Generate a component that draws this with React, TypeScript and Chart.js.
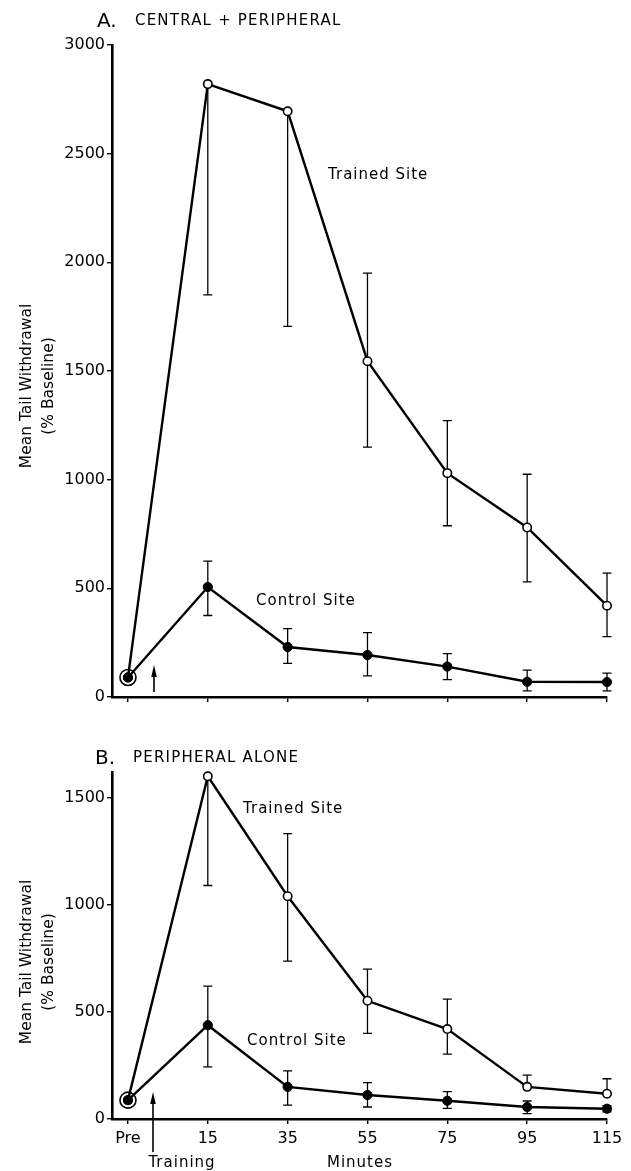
import React, { useEffect, useRef } from 'react';
import { Chart, registerables } from 'chart.js';

Chart.register(...registerables);

// ---------- data ----------
const xLabels = ['Pre', '15', '35', '55', '75', '95', '115'];
const xPositions = [0, 1, 2, 3, 4, 5, 6];

// Panel A: central + peripheral
const trainedA = [90, 2820, 2695, 1545, 1030, 780, 420];
const trainedAUpper = [null, null, null, 1950, 1272, 1025, 570];
const trainedALower = [null, 1850, 1705, 1150, 788, 530, 278];
const controlA = [90, 506, 230, 193, 140, 70, 69];
const controlAUpper = [null, 625, 315, 296, 200, 124, 110];
const controlALower = [null, 375, 155, 97, 80, 28, 28];
const yTicksA = [0, 500, 1000, 1500, 2000, 2500, 3000];

// Panel B: peripheral alone
const trainedB = [88, 1600, 1040, 552, 420, 150, 118];
const trainedBUpper = [null, null, 1332, 700, 560, 205, 188];
const trainedBLower = [null, 1090, 737, 400, 303, null, null];
const controlB = [88, 438, 150, 112, 85, 56, 48];
const controlBUpper = [null, 620, 225, 170, 128, 84, 62];
const controlBLower = [null, 243, 65, 56, 50, 25, 33];
const yTicksB = [0, 500, 1000, 1500];

const FONT = "'DejaVu Sans', 'Liberation Sans', Arial, sans-serif";

type Num = number | null;

const toPoints = (vals: number[]) => vals.map((v, i) => ({ x: xPositions[i], y: v }));

function makeErrorBars(series: { values: number[]; upper: Num[]; lower: Num[] }[]) {
  return {
    id: 'errorBars',
    beforeDatasetsDraw(chart: any) {
      const { ctx } = chart;
      const x = chart.scales.x;
      const y = chart.scales.y;
      ctx.save();
      ctx.strokeStyle = '#000';
      ctx.lineWidth = 1.3;
      for (const s of series) {
        s.values.forEach((v, i) => {
          const px = x.getPixelForValue(xPositions[i]);
          const py = y.getPixelForValue(v);
          [s.upper[i], s.lower[i]].forEach((e) => {
            if (e == null) return;
            const pe = y.getPixelForValue(e);
            ctx.beginPath();
            ctx.moveTo(px, py);
            ctx.lineTo(px, pe);
            ctx.moveTo(px - 4.5, pe);
            ctx.lineTo(px + 4.5, pe);
            ctx.stroke();
          });
        });
      }
      ctx.restore();
    },
  };
}

type TextItem = {
  text: string;
  x: number;
  cy: number;
  size: number;
  align?: CanvasTextAlign;
  spacing?: number;
  rotate?: boolean;
};
type Arrow = { x: number; top: number; bottom: number };

function makeDecor(texts: TextItem[], arrows: Arrow[]) {
  return {
    id: 'decor',
    afterDraw(chart: any) {
      const ctx: CanvasRenderingContext2D = chart.ctx;
      ctx.save();
      ctx.fillStyle = '#000';
      ctx.strokeStyle = '#000';
      for (const t of texts) {
        ctx.save();
        ctx.font = `${t.size}px ${FONT}`;
        (ctx as any).letterSpacing = `${t.spacing ?? 0}px`;
        ctx.textBaseline = 'alphabetic';
        ctx.textAlign = t.align ?? 'left';
        const off = 0.36 * t.size;
        if (t.rotate) {
          ctx.translate(t.x, t.cy);
          ctx.rotate(-Math.PI / 2);
          ctx.fillText(t.text, 0, off);
        } else {
          ctx.fillText(t.text, t.x, t.cy + off);
        }
        ctx.restore();
      }
      for (const a of arrows) {
        ctx.lineWidth = 1.6;
        ctx.beginPath();
        ctx.moveTo(a.x, a.top + 6);
        ctx.lineTo(a.x, a.bottom);
        ctx.stroke();
        ctx.beginPath();
        ctx.moveTo(a.x, a.top);
        ctx.lineTo(a.x - 2.8, a.top + 12);
        ctx.lineTo(a.x + 2.8, a.top + 12);
        ctx.closePath();
        ctx.fill();
      }
      ctx.restore();
    },
  };
}

type Panel = {
  trained: number[];
  trainedUpper: Num[];
  trainedLower: Num[];
  control: number[];
  controlUpper: Num[];
  controlLower: Num[];
  yMax: number;
  yTicks: number[];
  showXLabels: boolean;
  padTop: number;
  xHeight: number;
  texts: TextItem[];
  arrows: Arrow[];
};

function makeConfig(p: Panel): any {
  const axisGrid = {
    display: true,
    drawOnChartArea: false,
    drawTicks: true,
    tickLength: 5,
    color: '#000',
    lineWidth: 1.4,
  };
  const axisBorder = { display: true, color: '#000', width: 2.6 };
  return {
    type: 'line',
    data: {
      datasets: [
        {
          label: 'Control Site',
          data: toPoints(p.control),
          borderColor: '#000',
          borderWidth: 2.4,
          pointRadius: 4.6,
          pointBackgroundColor: '#000',
          pointBorderColor: '#000',
          pointBorderWidth: 1,
          tension: 0,
          clip: false,
          order: 1,
        },
        {
          label: 'Trained Site',
          data: toPoints(p.trained),
          borderColor: '#000',
          borderWidth: 2.4,
          pointRadius: 4.2,
          pointBackgroundColor: '#fff',
          pointBorderColor: '#000',
          pointBorderWidth: 1.6,
          tension: 0,
          clip: false,
          order: 2,
        },
        {
          label: 'Pre',
          data: [{ x: xPositions[0], y: p.trained[0] }],
          showLine: false,
          pointRadius: 8,
          pointBackgroundColor: '#fff',
          pointBorderColor: '#000',
          pointBorderWidth: 1.6,
          clip: false,
          order: 3,
        },
      ],
    },
    options: {
      animation: false,
      responsive: false,
      devicePixelRatio: 1,
      layout: { padding: { top: p.padTop, right: 24, bottom: 0, left: 0 } },
      plugins: { legend: { display: false }, tooltip: { enabled: false }, title: { display: false } },
      scales: {
        x: {
          type: 'linear',
          min: -0.2,
          max: 6,
          afterBuildTicks: (s: any) => {
            s.ticks = xPositions.map((v) => ({ value: v }));
          },
          afterFit: (s: any) => {
            s.height = p.xHeight;
          },
          ticks: {
            display: p.showXLabels,
            autoSkip: false,
            maxRotation: 0,
            padding: 5,
            color: '#000',
            font: { family: FONT, size: 16 },
            callback: (v: number) => {
              const i = xPositions.indexOf(v);
              return i >= 0 ? xLabels[i] : '';
            },
          },
          grid: axisGrid,
          border: axisBorder,
        },
        y: {
          type: 'linear',
          min: 0,
          max: p.yMax,
          afterBuildTicks: (s: any) => {
            s.ticks = p.yTicks.map((v) => ({ value: v }));
          },
          afterFit: (s: any) => {
            s.width = 112;
          },
          ticks: {
            padding: 2,
            color: '#000',
            font: { family: FONT, size: 16 },
            callback: (v: number) => String(v),
          },
          grid: axisGrid,
          border: axisBorder,
        },
      },
    },
    plugins: [
      makeErrorBars([
        { values: p.trained, upper: p.trainedUpper, lower: p.trainedLower },
        { values: p.control, upper: p.controlUpper, lower: p.controlLower },
      ]),
      makeDecor(p.texts, p.arrows),
    ],
  };
}

const panelA: Panel = {
  trained: trainedA,
  trainedUpper: trainedAUpper,
  trainedLower: trainedALower,
  control: controlA,
  controlUpper: controlAUpper,
  controlLower: controlALower,
  yMax: 3000,
  yTicks: yTicksA,
  showXLabels: false,
  padTop: 45,
  xHeight: 43,
  texts: [
    { text: 'A.', x: 97, cy: 20, size: 20 },
    { text: 'CENTRAL + PERIPHERAL', x: 135, cy: 20, size: 15, spacing: 1.2 },
    { text: 'Trained Site', x: 328, cy: 174, size: 15, spacing: 1 },
    { text: 'Control Site', x: 256, cy: 600, size: 15, spacing: 1 },
    { text: 'Mean Tail Withdrawal', x: 25, cy: 386, size: 15.5, align: 'center', rotate: true },
    { text: '(% Baseline)', x: 47, cy: 386, size: 15.5, align: 'center', rotate: true },
  ],
  arrows: [{ x: 154, top: 665, bottom: 692 }],
};

const panelB: Panel = {
  trained: trainedB,
  trainedUpper: trainedBUpper,
  trainedLower: trainedBLower,
  control: controlB,
  controlUpper: controlBUpper,
  controlLower: controlBLower,
  yMax: 1620,
  yTicks: yTicksB,
  showXLabels: true,
  padTop: 32,
  xHeight: 52,
  texts: [
    { text: 'B.', x: 95, cy: 17, size: 20 },
    { text: 'PERIPHERAL ALONE', x: 133, cy: 17, size: 15, spacing: 1.2 },
    { text: 'Trained Site', x: 243, cy: 68, size: 15, spacing: 1 },
    { text: 'Control Site', x: 247, cy: 300, size: 15, spacing: 1 },
    { text: 'Mean Tail Withdrawal', x: 25, cy: 222, size: 15.5, align: 'center', rotate: true },
    { text: '(% Baseline)', x: 47, cy: 222, size: 15.5, align: 'center', rotate: true },
    { text: 'Training', x: 182, cy: 422, size: 15, align: 'center', spacing: 1 },
    { text: 'Minutes', x: 360, cy: 422, size: 15, align: 'center', spacing: 1 },
  ],
  arrows: [{ x: 153, top: 352, bottom: 412 }],
};

export default function App() {
  const refA = useRef<HTMLCanvasElement>(null);
  const refB = useRef<HTMLCanvasElement>(null);

  useEffect(() => {
    const a = new Chart(refA.current as HTMLCanvasElement, makeConfig(panelA));
    const b = new Chart(refB.current as HTMLCanvasElement, makeConfig(panelB));
    return () => {
      a.destroy();
      b.destroy();
    };
  }, []);

  return (
    <div style={{ position: 'absolute', left: 0, top: 0, width: 631, height: 1171, background: '#fff' }}>
      <canvas ref={refA} width={631} height={740} style={{ position: 'absolute', left: 0, top: 0 }} />
      <canvas ref={refB} width={631} height={431} style={{ position: 'absolute', left: 0, top: 740 }} />
    </div>
  );
}
